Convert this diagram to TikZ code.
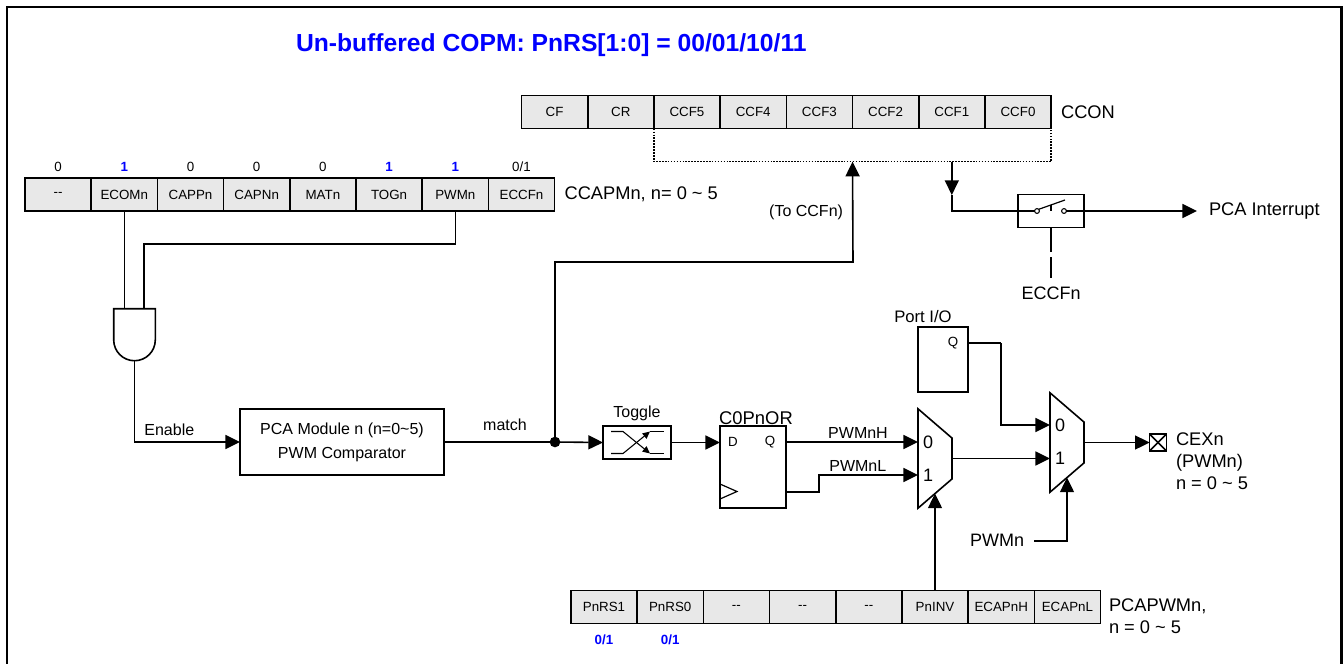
\documentclass[tikz,border=0pt]{standalone}
\usepackage{fontspec}
\setmainfont{Liberation Sans}
\usepackage{xcolor}
\usepackage{tikz}
\usetikzlibrary{shapes.geometric, shapes.gates.logic.US, arrows.meta, positioning, calc}
\definecolor{regfill}{RGB}{232, 232, 232}
\definecolor{bitblue}{RGB}{0, 0, 255}

\begin{document}
\begin{tikzpicture}[
        x=0.75pt, y=-0.75pt,
        % --- TikZ Styles ---
        every node/.style={inner sep=0pt, outer sep=0pt},
        wire/.style={line width=1.2pt, line join=miter},
        arrow/.style={wire, -{Triangle[length=11pt, width=10.5pt]}},
        regcell/.style={
            draw, line width=1.2pt, fill=regfill, minimum width=49.65pt, minimum height=25pt,
            align=center, font=\fontsize{10}{12}\selectfont
        },
        bitzero/.style={text height=7.5pt, text depth=0pt, font=\fontsize{10}{12}\selectfont},
        bitone/.style={bitzero, text=bitblue, font=\fontsize{10}{12}\selectfont\bfseries},
        biglabel/.style={font=\fontsize{13.7}{16.5}\selectfont, align=left},
        smalllabel/.style={font=\fontsize{12}{14}\selectfont},
        blockbox/.style={draw, line width=1.2pt},
        muxbox/.style={
            draw, line width=1.2pt, trapezium, shape border rotate=270, trapezium stretches=true,
            trapezium left angle=54.4, trapezium right angle=54.4, inner sep=1pt
        }
    ]

    \useasboundingbox (0,0) rectangle (1343,664);

    % --- 1. FRAME AND TITLE ---
    \draw[line width=1.7pt] (7,664) -- (7,7) -- (1341.5,7) -- (1341.5,664);
    \node[anchor=west, text=bitblue, font=\fontsize{18.5}{22}\selectfont\bfseries] (title) at (296,45) {Un-buffered COPM: PnRS[1:0] = 00/01/10/11};

    % --- 2. CCON ---
    \node[regcell] (cf) at (554.6,112) {CF};
    \node[regcell, right=0pt of cf] (cr) {CR};
    \node[regcell, right=0pt of cr] (ccfv) {CCF5};
    \node[regcell, right=0pt of ccfv] (ccfiv) {CCF4};
    \node[regcell, right=0pt of ccfiv] (ccfiii) {CCF3};
    \node[regcell, right=0pt of ccfiii] (ccfii) {CCF2};
    \node[regcell, right=0pt of ccfii] (ccfi) {CCF1};
    \node[regcell, right=0pt of ccfi] (ccfo) {CCF0};
    \node[biglabel, right=7.5pt of ccfo] (cconlabel) {CCON};

    % --- 3. CCAPMn ---
    \node[regcell] (dashcell) at (58.1,194.5) {-{}-};
    \node[regcell, right=0pt of dashcell] (ecomn) {ECOMn};
    \node[regcell, right=0pt of ecomn] (cappn) {CAPPn};
    \node[regcell, right=0pt of cappn] (capnn) {CAPNn};
    \node[regcell, right=0pt of capnn] (matn) {MATn};
    \node[regcell, right=0pt of matn] (togn) {TOGn};
    \node[regcell, right=0pt of togn] (pwmn) {PWMn};
    \node[regcell, right=0pt of pwmn] (eccfn) {ECCFn};
    \node[biglabel, right=7.5pt of eccfn] (ccapmlabel) {CCAPMn, n= 0 \textasciitilde{} 5};

    \node[bitzero, above=4.5pt of dashcell] (bitdash) {0};
    \node[bitone, above=4.5pt of ecomn] (bitecom) {1};
    \node[bitzero, above=4.5pt of cappn] (bitcapp) {0};
    \node[bitzero, above=4.5pt of capnn] (bitcapn) {0};
    \node[bitzero, above=4.5pt of matn] (bitmat) {0};
    \node[bitone, above=4.5pt of togn] (bittog) {1};
    \node[bitone, above=4.5pt of pwmn] (bitpwm) {1};
    \node[bitzero, above=4.5pt of eccfn] (biteccf) {0/1};

    % --- 4. AND GATE AND COMPARATOR ---
    \node[and gate US, draw, line width=1.2pt, rotate=270, minimum width=39pt, minimum height=30.5pt] (andgate) at (134.5,333) {};
    \coordinate (pwmturn) at (144,244);
    \node[blockbox, minimum width=153pt, minimum height=49.5pt, align=center, font=\fontsize{12}{18}\selectfont] (module) at (342,442) {PCA Module n (n=0\textasciitilde5)\\PWM Comparator};
    \node[smalllabel, above=4.5pt of module.west, xshift=-53pt] (enablelabel) {Enable};
    \node[circle, fill=black, minimum size=8pt] (junction) at (555,442) {};
    \node[smalllabel] (matchlabel) at (505,425) {match};
    \coordinate (rise) at (853,262);
    \node[smalllabel, anchor=east] (tolabel) at (843,212) {(To CCFn)};

    % --- 5. TOGGLE AND FLIP-FLOP ---
    \node[blockbox, minimum width=51pt, minimum height=25pt] (toggle) at (637,442.5) {};
    \node[smalllabel, above=3.5pt of toggle] (togglelabel) {Toggle};
    \node[blockbox, minimum width=49.5pt, minimum height=61.5pt] (ffbox) at (753,467) {};
    \node[font=\fontsize{13.8}{16}\selectfont, anchor=south] (fflabel) at (756,425) {C0PnOR};
    \node[font=\fontsize{10}{12}\selectfont] (ffd) at (733,442) {D};
    \node[font=\fontsize{10}{12}\selectfont] (ffq) at (770,442) {Q};
    \coordinate (ffout) at (ffbox.east |- 0,492);
    \coordinate (ffstep) at (819,475);

    % --- 6. MUXES AND PORT ---
    \node[muxbox, minimum width=74.5pt, minimum height=25.5pt] (muxa) at (935,458.5) {};
    \node[font=\fontsize{13.5}{16}\selectfont] (muxazero) at (928,442) {0};
    \node[font=\fontsize{13.5}{16}\selectfont] (muxaone) at (928,475) {1};
    \node[muxbox, minimum width=74.5pt, minimum height=25.5pt] (muxb) at (1067,442.5) {};
    \node[font=\fontsize{13.5}{16}\selectfont] (muxbzero) at (1060,425) {0};
    \node[font=\fontsize{13.5}{16}\selectfont] (muxbone) at (1060,458) {1};
    \node[blockbox, minimum width=37.5pt, minimum height=49pt] (portbox) at (943,359.5) {};
    \node[font=\fontsize{12.5}{15}\selectfont] (portlabel) at (923,317) {Port I/O};
    \node[font=\fontsize{10}{12}\selectfont] (portq) at (953,343) {Q};
    \coordinate (portturn) at (1001,343);

    \node[draw, line width=1.2pt, minimum size=12.5pt] (pad) at (1158,442.5) {};
    \draw[wire] (pad.north west) -- (pad.south east);
    \draw[wire] (pad.north east) -- (pad.south west);
    \node[biglabel, anchor=west] (cexlabel) at (1176,461) {CEXn\\(PWMn)\\n = 0 \textasciitilde{} 5};
    \node[font=\fontsize{13.5}{16}\selectfont, anchor=east] (pwmsel) at (1024,540.5) {PWMn};
    \coordinate (pwmselstart) at (1034,541);

    % --- 7. PCAPWMn ---
    \node[regcell] (pnrsi) at (604,607) {PnRS1};
    \node[regcell, right=0pt of pnrsi] (pnrso) {PnRS0};
    \node[regcell, right=0pt of pnrso] (dasha) {-{}-};
    \node[regcell, right=0pt of dasha] (dashb) {-{}-};
    \node[regcell, right=0pt of dashb] (dashc) {-{}-};
    \node[regcell, right=0pt of dashc] (pninv) {PnINV};
    \node[regcell, right=0pt of pninv] (ecapnh) {ECAPnH};
    \node[regcell, right=0pt of ecapnh] (ecapnl) {ECAPnL};
    \node[biglabel, anchor=west] (pcapwmlabel) at (1109,616) {PCAPWMn,\\n = 0 \textasciitilde{} 5};
    \node[bitone, below=8pt of pnrsi] (bitpnrsi) {0/1};
    \node[bitone, below=8pt of pnrso] (bitpnrso) {0/1};

    % --- 8. INTERRUPT SWITCH ---
    \coordinate (busleft) at ($(ccfv.south west)+(0,33)$);
    \coordinate (busright) at ($(ccfo.south east)+(0,33)$);
    \coordinate (busup) at (ccfiii.south east |- busleft);
    \coordinate (busdown) at (ccfi.south |- busleft);
    \coordinate (busdrop) at (ccfi.south |- 0,195);
    \node[blockbox, minimum width=49.5pt, minimum height=25pt] (switchbox) at (1051,211) {};
    \node[circle, draw, line width=0.8pt, minimum size=3.6pt] (contacta) at (1037,211) {};
    \node[circle, draw, line width=0.8pt, minimum size=3.6pt] (contactb) at (1064,211) {};
    \coordinate (leverend) at (1065,200);
    \coordinate (leverpin) at (1051,205);
    \node[font=\fontsize{13.5}{16}\selectfont] (eccflabel) at (1051,293) {ECCFn};
    \node[biglabel, anchor=west] (pcaint) at (1209,211) {PCA Interrupt};

% --- CONNECTIONS ---

    % 1. Status flags
    \draw[wire, densely dotted] (ccfv.south west) -- (busleft) -- (busright) -- (ccfo.south east);
    \draw[arrow] (busdown) -- (busdrop);
    \draw[wire] (busdrop) |- (switchbox.west);
    \draw[wire] (switchbox.west) -- (contacta.west);
    \draw[arrow] (contactb.east) -- ($(pcaint.west)+(-12,0)$);
    \draw[line width=0.9pt] (contacta.north east) -- (leverend);
    \draw[line width=0.9pt] (leverpin) -- (switchbox.center);
    \draw[wire, dash pattern=on 18pt off 4pt] (switchbox.south) -- ($(eccflabel.north)+(0,-9)$);

    % 2. Enable path
    \draw[wire] (ecomn.south) -- (ecomn.south |- andgate.west);
    \draw[wire] (pwmn.south) |- (pwmturn) -- (pwmturn |- andgate.west);
    \draw[arrow] (andgate.east) |- (module.west);
    \draw[wire] (module.east) -- (junction.center);
    \draw[arrow] (junction.center) |- (rise) -- (busup);

    % 3. Toggle and flip-flop
    \draw[arrow] (junction.center) -- (toggle.west);
    \draw[line width=0.8pt, -{Triangle[length=5.5pt, width=5pt]}] ($(toggle.center)+(-26,-11)$) -- ++(12,0) -- ++(27,22);
    \draw[line width=0.8pt] ($(toggle.center)+(13,11)$) -- ++(14,0);
    \draw[line width=0.8pt, -{Triangle[length=5.5pt, width=5pt]}] ($(toggle.center)+(-26,11)$) -- ++(12,0) -- ++(27,-22);
    \draw[line width=0.8pt] ($(toggle.center)+(13,-11)$) -- ++(14,0);
    \draw[arrow] (toggle.east) -- (ffbox.west |- toggle.east);
    \draw[line width=0.9pt] ($(ffbox.west)+(0,17)$) -- ++(17,7.5) -- ++(-17,7.5);

    % 4. Muxes to output
    \draw[arrow] (ffbox.east |- ffq) -- node[smalllabel, above=2.5pt, xshift=4.5pt] (pwmhlabel) {PWMnH} (muxa.west |- ffq);
    \draw[arrow] (ffout) -| (ffstep) -- node[smalllabel, above=2.5pt, xshift=-8pt] (pwmllabel) {PWMnL} (muxa.west |- ffstep);
    \draw[arrow] (pninv.north) -- (muxa.south);
    \draw[arrow] (muxa.east) -- (muxb.west |- muxa.east);
    \draw[wire] (portbox.east |- portq) -- (portturn);
    \draw[arrow] (portturn) |- (muxb.west |- muxbzero);
    \draw[arrow] (pwmselstart) -| (muxb.south);
    \draw[arrow] (muxb.east) -- (pad.west);

    \end{tikzpicture}
\end{document}
